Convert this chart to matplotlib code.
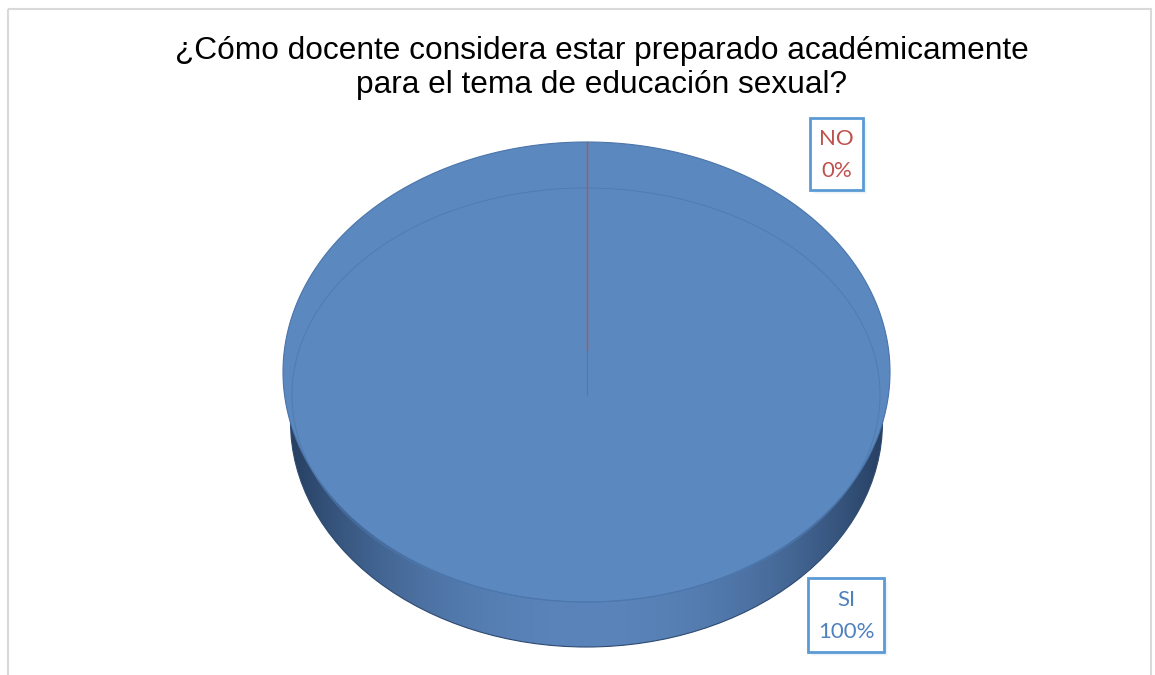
import numpy as np
import matplotlib
matplotlib.use("Agg")
import matplotlib.pyplot as plt
from matplotlib.patches import Ellipse, Rectangle, Polygon

# ---- data ----
categories = ["SI", "NO"]
values = [100, 0]
label_texts = ["SI\n100%", "NO\n0%"]
title = "¿Cómo docente considera estar preparado académicamente\npara el tema de educación sexual?"

slice_colors = ["#5B88BF", "#C0504D"]
label_colors = ["#4F81BD", "#C0504D"]

W, H = 1155, 675
fig = plt.figure(figsize=(W / 100, H / 100), dpi=100)
ax = fig.add_axes([0, 0, 1, 1])
ax.set_xlim(0, W)
ax.set_ylim(H, 0)
ax.axis("off")

# chart border
ax.add_patch(Rectangle((8, 9), 1143, 700, fill=False, edgecolor="#D9D9D9", lw=1.5))

# title
ax.text(602, 68, title, ha="center", va="center", fontsize=22.8,
        family=["Liberation Sans", "DejaVu Sans"], color="#000000", linespacing=1.2)

# pie geometry (layout)
cx, cy, rx, ry = 586.5, 372, 303.5, 230
bcx, bcy, brx, bry = 586.5, 422, 296, 225

# side (bottom ellipse) with gradient
side = Ellipse((bcx, bcy), 2 * brx, 2 * bry, facecolor="none", edgecolor="none")
ax.add_patch(side)
xs = np.linspace(-1, 1, 400)
t = np.abs(xs) ** 2.2
c_light = np.array([0x5A, 0x84, 0xBA]) / 255
c_dark = np.array([0x27, 0x40, 0x63]) / 255
grad = (c_light[None, :] * (1 - t[:, None]) + c_dark[None, :] * t[:, None])
img = np.tile(grad[None, :, :], (10, 1, 1))
im = ax.imshow(img, extent=(bcx - brx, bcx + brx, bcy + bry, bcy - bry),
               aspect="auto", zorder=1, interpolation="bilinear")
im.set_clip_path(side)
ax.add_patch(Ellipse((bcx, bcy), 2 * brx, 2 * bry, facecolor="none",
                     edgecolor="#2E4A70", lw=0.8, zorder=1.5))

# top face: wedges from values (clockwise from top)
total = float(sum(values))
start = 90.0
wedge_angles = []
for v, col in zip(values, slice_colors):
    sweep = 360.0 * v / total
    a0, a1 = start, start - sweep
    wedge_angles.append((a0, a1))
    if sweep > 0:
        th = np.radians(np.linspace(a0, a1, 400))
        px = cx + rx * np.cos(th)
        py = cy - ry * np.sin(th)
        if sweep < 360:
            px = np.concatenate([[cx], px])
            py = np.concatenate([[cy], py])
        ax.add_patch(Polygon(np.column_stack([px, py]), closed=True,
                             facecolor=col, edgecolor="#4A75AA", lw=0.8, zorder=2))
    start = a1

# bevel inner line
ax.add_patch(Ellipse((586, 395), 588, 414, facecolor="none",
                     edgecolor="#4F79AE", lw=0.7, alpha=0.8, zorder=2.5))

# zero-size slice boundary line
for (a0, a1), v, col in zip(wedge_angles, values, slice_colors):
    if v == 0:
        ex = cx + rx * np.cos(np.radians(a0))
        ey = cy - ry * np.sin(np.radians(a0))
        ax.plot([ex, ex], [ey, 350], color=col, lw=1.0, zorder=3)
        ax.plot([ex, ex], [350, 395], color="#4F78AC", lw=0.8, zorder=3)

# labels with boxes
boxes = {"SI": (808, 578, 76, 74), "NO": (810, 118, 53, 72)}
for cat, txt, col in zip(categories, label_texts, label_colors):
    x0, y0, bw, bh = boxes[cat]
    # soft shadow
    for k, a in [(4, 0.08), (3, 0.10), (2, 0.14)]:
        ax.add_patch(Rectangle((x0 + k, y0 + k), bw, bh, facecolor="#9DB9DE",
                               edgecolor="none", alpha=a, zorder=4))
    ax.add_patch(Rectangle((x0, y0), bw, bh, facecolor="#FFFFFF",
                           edgecolor="#5B9BD5", lw=2, zorder=5))
    ax.text(x0 + bw / 2, y0 + bh / 2 + 1, txt, ha="center", va="center",
            fontsize=16, family=["Lato", "DejaVu Sans"], color=col,
            linespacing=1.75, zorder=6)

fig.savefig("out.png", dpi=100)
